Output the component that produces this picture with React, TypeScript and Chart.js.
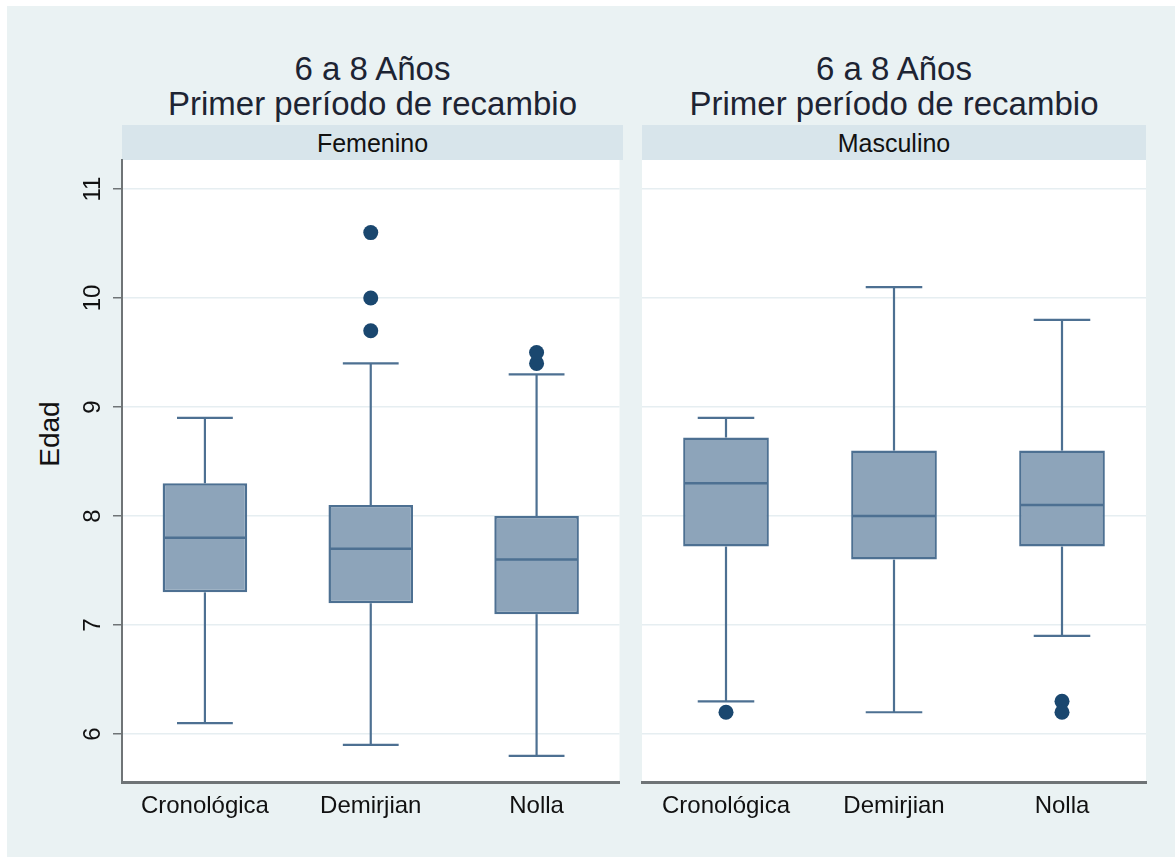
import React, { useEffect, useRef } from 'react';
import { Chart, registerables } from 'chart.js';

Chart.register(...registerables);

// ---- data ----
const categories = ['Cronológica', 'Demirjian', 'Nolla'];
const yTickValues = [6, 7, 8, 9, 10, 11];
const panelTitle = ['6 a 8 Años', 'Primer período de recambio'];
const yAxisTitle = 'Edad';

const femLabel = 'Femenino';
const femLow = [6.1, 5.9, 5.8];
const femQ1 = [7.3, 7.2, 7.1];
const femMedian = [7.8, 7.7, 7.6];
const femQ3 = [8.3, 8.1, 8.0];
const femHigh = [8.9, 9.4, 9.3];
const femOutliers = [[], [9.7, 10.0, 10.6], [9.4, 9.5]];

const mascLabel = 'Masculino';
const mascLow = [6.3, 6.2, 6.9];
const mascQ1 = [7.72, 7.6, 7.72];
const mascMedian = [8.3, 8.0, 8.1];
const mascQ3 = [8.72, 8.6, 8.6];
const mascHigh = [8.9, 10.1, 9.8];
const mascOutliers = [[6.2], [], [6.3, 6.2]];

// ---- styling ----
const FONT = '"Liberation Sans", Arial, Helvetica, sans-serif';
const PAGE_BG = '#eaf2f3';
const STRIP_BG = '#d8e5eb';
const BOX_FILL = '#8da4ba';
const BOX_LINE = '#4d7092';
const DOT = '#1a476f';
const AXIS = '#6f7476';
const GRID = '#e6eef1';
const TEXT = '#1d2433';
const Y_MIN = 5.56;
const Y_MAX = 11.266;

// canvas geometry: plot region spans y 160..782 on the page
const CANVAS_TOP = 130;
const CANVAS_H = 727;
const PAD_TOP = 30;

type Stats = {
  low: number[];
  q1: number[];
  median: number[];
  q3: number[];
  high: number[];
  outliers: number[][];
};

const femStats: Stats = { low: femLow, q1: femQ1, median: femMedian, q3: femQ3, high: femHigh, outliers: femOutliers };
const mascStats: Stats = { low: mascLow, q1: mascQ1, median: mascMedian, q3: mascQ3, high: mascHigh, outliers: mascOutliers };

// white plot region behind grid and boxes
const plotBackground = {
  id: 'plotBackground',
  beforeDraw(chart: any) {
    const { ctx, chartArea } = chart;
    ctx.save();
    ctx.fillStyle = '#ffffff';
    ctx.fillRect(chartArea.left, chartArea.top, chartArea.right - chartArea.left, chartArea.bottom - chartArea.top);
    ctx.restore();
  },
};

// whiskers, caps and median lines for the floating-bar boxes
function makeWhiskers(stats: Stats) {
  const seg = (ctx: CanvasRenderingContext2D, x1: number, y1: number, x2: number, y2: number) => {
    ctx.beginPath();
    ctx.moveTo(x1, y1);
    ctx.lineTo(x2, y2);
    ctx.stroke();
  };
  return {
    id: 'boxWhiskers',
    beforeDatasetsDraw(chart: any) {
      const { ctx } = chart;
      const xs = chart.scales.x;
      const ys = chart.scales.y;
      const bars = chart.getDatasetMeta(0).data;
      ctx.save();
      ctx.strokeStyle = BOX_LINE;
      ctx.lineWidth = 2.2;
      stats.low.forEach((lo: number, i: number) => {
        const x = xs.getPixelForValue(i);
        const half = (bars[i].width * 0.66) / 2;
        const yLo = ys.getPixelForValue(lo);
        const yHi = ys.getPixelForValue(stats.high[i]);
        const yQ1 = ys.getPixelForValue(stats.q1[i]);
        const yQ3 = ys.getPixelForValue(stats.q3[i]);
        seg(ctx, x, yLo, x, yQ1);
        seg(ctx, x, yQ3, x, yHi);
        seg(ctx, x - half, yLo, x + half, yLo);
        seg(ctx, x - half, yHi, x + half, yHi);
      });
      ctx.restore();
    },
    afterDatasetsDraw(chart: any) {
      const { ctx } = chart;
      const xs = chart.scales.x;
      const ys = chart.scales.y;
      const bars = chart.getDatasetMeta(0).data;
      ctx.save();
      ctx.strokeStyle = BOX_LINE;
      ctx.lineWidth = 2.5;
      stats.median.forEach((m: number, i: number) => {
        const x = xs.getPixelForValue(i);
        const half = bars[i].width / 2;
        const y = ys.getPixelForValue(m);
        seg(ctx, x - half + 1, y, x + half - 1, y);
      });
      ctx.restore();
    },
  };
}

type PanelProps = {
  stats: Stats;
  left: number;
  width: number;
  showAxis: boolean;
  padLeft: number;
  padRight: number;
};

function BoxPanel({ stats, left, width, showAxis, padLeft, padRight }: PanelProps) {
  const ref = useRef<HTMLCanvasElement>(null);

  useEffect(() => {
    const canvas = ref.current;
    if (!canvas) return;
    const outlierPoints = stats.outliers.flatMap((vals, i) => vals.map((v) => ({ x: categories[i], y: v })));
    const chart = new Chart(canvas, {
      type: 'bar',
      data: {
        labels: categories,
        datasets: [
          {
            type: 'bar',
            data: stats.q1.map((v, i) => [v, stats.q3[i]]),
            backgroundColor: BOX_FILL,
            borderColor: BOX_LINE,
            borderWidth: 2.5,
            borderSkipped: false,
            barPercentage: 0.51,
            categoryPercentage: 1,
            order: 2,
          } as any,
          {
            type: 'line',
            data: outlierPoints,
            showLine: false,
            pointRadius: 7.5,
            pointHoverRadius: 7.5,
            pointBackgroundColor: DOT,
            pointBorderWidth: 0,
            order: 1,
          } as any,
        ],
      },
      options: {
        responsive: false,
        animation: false,
        events: [],
        layout: { padding: { top: PAD_TOP, right: padRight, bottom: 0, left: padLeft } },
        plugins: {
          legend: { display: false },
          tooltip: { enabled: false },
        },
        scales: {
          x: {
            type: 'category',
            offset: true,
            grid: { display: false, drawTicks: false },
            border: { display: true, color: AXIS, width: 3 },
            ticks: {
              color: '#111',
              font: { family: FONT, size: 24 },
              padding: 10,
              maxRotation: 0,
              autoSkip: false,
            },
            afterFit: (s: any) => {
              s.height = 75;
            },
          },
          y: {
            type: 'linear',
            min: Y_MIN,
            max: Y_MAX,
            afterBuildTicks: (s: any) => {
              s.ticks = yTickValues.map((value) => ({ value }));
            },
            grid: {
              color: GRID,
              lineWidth: 1.5,
              drawTicks: showAxis,
              tickLength: 9,
              tickColor: AXIS,
              tickWidth: 1.5,
            },
            border: { display: showAxis, color: AXIS, width: 2 },
            ticks: {
              display: showAxis,
              color: '#111',
              font: { family: FONT, size: 24 },
              minRotation: 90,
              maxRotation: 90,
              crossAlign: 'center',
              padding: 6,
            },
            afterFit: (s: any) => {
              s.width = showAxis ? 115 : 0;
            },
          },
        },
      } as any,
      plugins: [plotBackground, makeWhiskers(stats)],
    });
    return () => chart.destroy();
  }, []);

  return (
    <canvas
      ref={ref}
      width={width}
      height={CANVAS_H}
      style={{ position: 'absolute', left, top: CANVAS_TOP, width, height: CANVAS_H }}
    />
  );
}

function PanelHeading({ left, width, strip }: { left: number; width: number; strip: string }) {
  return (
    <>
      <div
        style={{
          position: 'absolute',
          left,
          top: 51,
          width,
          textAlign: 'center',
          fontFamily: FONT,
          fontSize: 33,
          lineHeight: '35px',
          color: TEXT,
          whiteSpace: 'nowrap',
        }}
      >
        {panelTitle.map((t) => (
          <div key={t}>{t}</div>
        ))}
      </div>
      <div
        style={{
          position: 'absolute',
          left,
          top: 125,
          width,
          height: 35,
          background: STRIP_BG,
          textAlign: 'center',
          fontFamily: FONT,
          fontSize: 25,
          lineHeight: '36px',
          color: '#111',
        }}
      >
        {strip}
      </div>
    </>
  );
}

export default function App() {
  return (
    <div style={{ position: 'absolute', left: 0, top: 0, width: 1175, height: 857, background: '#ffffff', overflow: 'hidden' }}>
      <div style={{ position: 'absolute', left: 7, top: 6, width: 1168, height: 851, background: PAGE_BG }} />
      <PanelHeading left={122} width={501} strip={femLabel} />
      <PanelHeading left={642} width={504} strip={mascLabel} />
      <div
        style={{
          position: 'absolute',
          left: 50,
          top: 434,
          transform: 'translate(-50%, -50%) rotate(-90deg)',
          fontFamily: FONT,
          fontSize: 28,
          color: '#111',
          whiteSpace: 'nowrap',
        }}
      >
        {yAxisTitle}
      </div>
      <BoxPanel stats={femStats} left={7} width={620} showAxis={true} padLeft={0} padRight={4} />
      <BoxPanel stats={mascStats} left={612} width={563} showAxis={false} padLeft={30} padRight={29} />
    </div>
  );
}
